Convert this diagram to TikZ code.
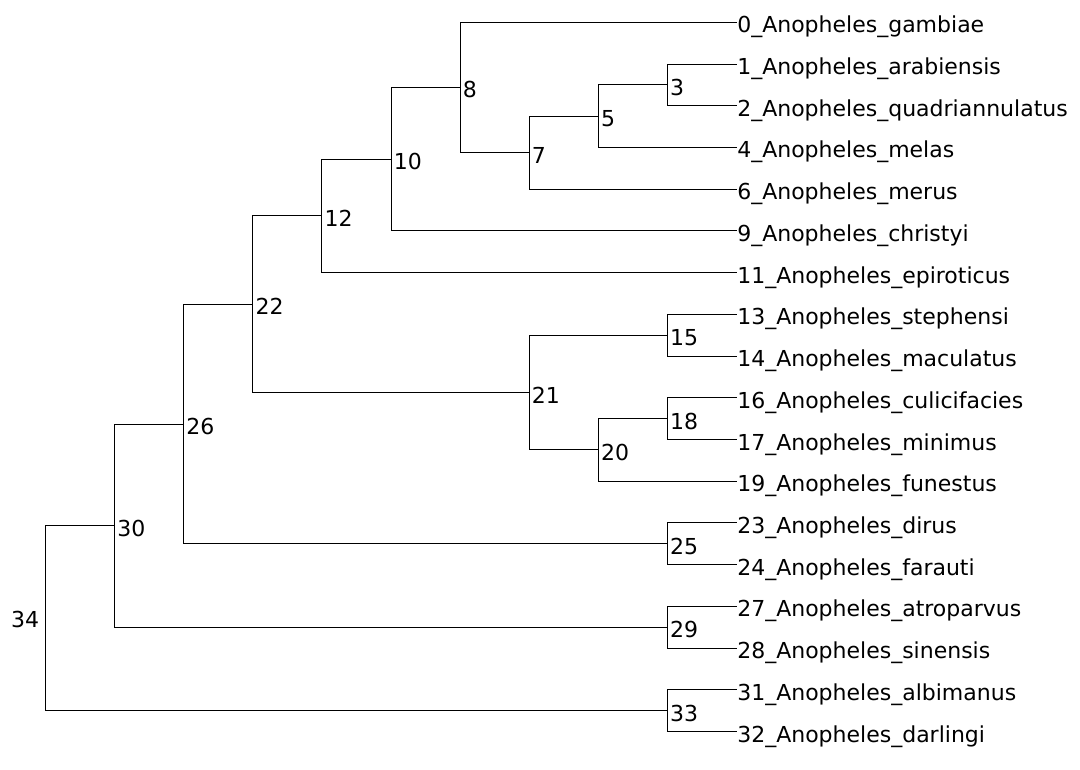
\documentclass[tikz,border=0pt]{standalone}
\usepackage{fontspec}
\setmainfont{DejaVu Sans}
\begin{document}
\begin{tikzpicture}[x=0.75pt,y=-0.75pt,
  branch/.style={draw=black,line width=0.75pt},
  leaflbl/.style={anchor=base west,inner sep=0pt,font=\fontsize{16.5}{19}\selectfont},
  innerlbl/.style={anchor=base west,inner sep=0pt,font=\fontsize{16.5}{19}\selectfont},
  rootlbl/.style={anchor=base east,inner sep=0pt,font=\fontsize{16.5}{19}\selectfont}]
\useasboundingbox (0,0) rectangle (1080,769);
\fill[white] (0,0) rectangle (1080,769);

% leaf tips
\coordinate (l0)  at (736.5,22.3);
\coordinate (l1)  at (736.5,64.02);
\coordinate (l2)  at (736.5,105.74);
\coordinate (l4)  at (736.5,147.46);
\coordinate (l6)  at (736.5,189.18);
\coordinate (l9)  at (736.5,230.9);
\coordinate (l11) at (736.5,272.62);
\coordinate (l13) at (736.5,314.34);
\coordinate (l14) at (736.5,356.06);
\coordinate (l16) at (736.5,397.78);
\coordinate (l17) at (736.5,439.5);
\coordinate (l19) at (736.5,481.22);
\coordinate (l23) at (736.5,522.94);
\coordinate (l24) at (736.5,564.66);
\coordinate (l27) at (736.5,606.38);
\coordinate (l28) at (736.5,648.1);
\coordinate (l31) at (736.5,689.82);
\coordinate (l32) at (736.5,731.54);

% internal nodes
\coordinate (n3)  at (667.4,84.88);
\coordinate (n5)  at (598.3,116.17);
\coordinate (n7)  at (529.2,152.68);
\coordinate (n8)  at (460.1,87.49);
\coordinate (n10) at (391.0,159.19);
\coordinate (n12) at (321.9,215.9);
\coordinate (n15) at (667.4,335.2);
\coordinate (n18) at (667.4,418.64);
\coordinate (n20) at (598.3,449.93);
\coordinate (n21) at (529.2,392.57);
\coordinate (n22) at (252.8,304.23);
\coordinate (n25) at (667.4,543.8);
\coordinate (n26) at (183.7,424.02);
\coordinate (n29) at (667.4,627.24);
\coordinate (n30) at (114.6,525.63);
\coordinate (n33) at (667.4,710.68);
\coordinate (n34) at (45.5,618.16);

% branches
\draw[branch] (n3) |- (l1);   \draw[branch] (n3) |- (l2);
\draw[branch] (n5) |- (n3);   \draw[branch] (n5) |- (l4);
\draw[branch] (n7) |- (n5);   \draw[branch] (n7) |- (l6);
\draw[branch] (n8) |- (l0);   \draw[branch] (n8) |- (n7);
\draw[branch] (n10) |- (n8);  \draw[branch] (n10) |- (l9);
\draw[branch] (n12) |- (n10); \draw[branch] (n12) |- (l11);
\draw[branch] (n15) |- (l13); \draw[branch] (n15) |- (l14);
\draw[branch] (n18) |- (l16); \draw[branch] (n18) |- (l17);
\draw[branch] (n20) |- (n18); \draw[branch] (n20) |- (l19);
\draw[branch] (n21) |- (n15); \draw[branch] (n21) |- (n20);
\draw[branch] (n22) |- (n12); \draw[branch] (n22) |- (n21);
\draw[branch] (n25) |- (l23); \draw[branch] (n25) |- (l24);
\draw[branch] (n26) |- (n22); \draw[branch] (n26) |- (n25);
\draw[branch] (n29) |- (l27); \draw[branch] (n29) |- (l28);
\draw[branch] (n30) |- (n26); \draw[branch] (n30) |- (n29);
\draw[branch] (n33) |- (l31); \draw[branch] (n33) |- (l32);
\draw[branch] (n34) |- (n30); \draw[branch] (n34) |- (n33);

% leaf names
\node[leaflbl] (t0)  at ([shift={(0.5,10.5)}]l0)  {0\_Anopheles\_gambiae};
\node[leaflbl] (t1)  at ([shift={(0.5,10.5)}]l1)  {1\_Anopheles\_arabiensis};
\node[leaflbl] (t2)  at ([shift={(0.5,10.5)}]l2)  {2\_Anopheles\_quadriannulatus};
\node[leaflbl] (t4)  at ([shift={(0.5,10.5)}]l4)  {4\_Anopheles\_melas};
\node[leaflbl] (t6)  at ([shift={(0.5,10.5)}]l6)  {6\_Anopheles\_merus};
\node[leaflbl] (t9)  at ([shift={(0.5,10.5)}]l9)  {9\_Anopheles\_christyi};
\node[leaflbl] (t11) at ([shift={(0.5,10.5)}]l11) {11\_Anopheles\_epiroticus};
\node[leaflbl] (t13) at ([shift={(0.5,10.5)}]l13) {13\_Anopheles\_stephensi};
\node[leaflbl] (t14) at ([shift={(0.5,10.5)}]l14) {14\_Anopheles\_maculatus};
\node[leaflbl] (t16) at ([shift={(0.5,10.5)}]l16) {16\_Anopheles\_culicifacies};
\node[leaflbl] (t17) at ([shift={(0.5,10.5)}]l17) {17\_Anopheles\_minimus};
\node[leaflbl] (t19) at ([shift={(0.5,10.5)}]l19) {19\_Anopheles\_funestus};
\node[leaflbl] (t23) at ([shift={(0.5,10.5)}]l23) {23\_Anopheles\_dirus};
\node[leaflbl] (t24) at ([shift={(0.5,10.5)}]l24) {24\_Anopheles\_farauti};
\node[leaflbl] (t27) at ([shift={(0.5,10.5)}]l27) {27\_Anopheles\_atroparvus};
\node[leaflbl] (t28) at ([shift={(0.5,10.5)}]l28) {28\_Anopheles\_sinensis};
\node[leaflbl] (t31) at ([shift={(0.5,10.5)}]l31) {31\_Anopheles\_albimanus};
\node[leaflbl] (t32) at ([shift={(0.5,10.5)}]l32) {32\_Anopheles\_darlingi};

% internal node numbers
\node[innerlbl] (m3)  at ([shift={(2.5,10.5)}]n3)  {3};
\node[innerlbl] (m5)  at ([shift={(2.5,10.5)}]n5)  {5};
\node[innerlbl] (m7)  at ([shift={(2.5,10.5)}]n7)  {7};
\node[innerlbl] (m8)  at ([shift={(2.5,10.5)}]n8)  {8};
\node[innerlbl] (m10) at ([shift={(2.5,10.5)}]n10) {10};
\node[innerlbl] (m12) at ([shift={(2.5,10.5)}]n12) {12};
\node[innerlbl] (m15) at ([shift={(2.5,10.5)}]n15) {15};
\node[innerlbl] (m18) at ([shift={(2.5,10.5)}]n18) {18};
\node[innerlbl] (m20) at ([shift={(2.5,10.5)}]n20) {20};
\node[innerlbl] (m21) at ([shift={(2.5,10.5)}]n21) {21};
\node[innerlbl] (m22) at ([shift={(2.5,10.5)}]n22) {22};
\node[innerlbl] (m25) at ([shift={(2.5,10.5)}]n25) {25};
\node[innerlbl] (m26) at ([shift={(2.5,10.5)}]n26) {26};
\node[innerlbl] (m29) at ([shift={(2.5,10.5)}]n29) {29};
\node[innerlbl] (m30) at ([shift={(2.5,10.5)}]n30) {30};
\node[innerlbl] (m33) at ([shift={(2.5,10.5)}]n33) {33};
\node[rootlbl]  (m34) at ([shift={(-6,9.7)}]n34)   {34};
\end{tikzpicture}
\end{document}
